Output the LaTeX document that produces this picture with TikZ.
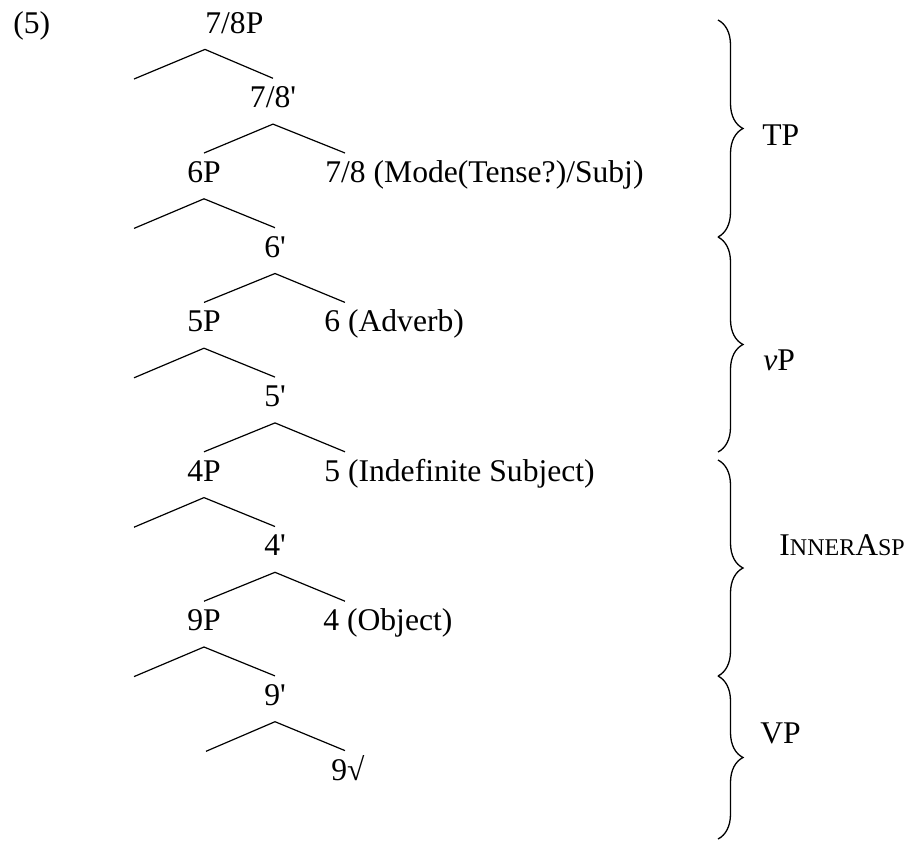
\documentclass[tikz,border=0pt]{standalone}
\usepackage{fontspec}
\newfontfamily\treefont{Liberation Serif}
\usetikzlibrary{decorations.pathreplacing}
\newcommand{\lowcap}[1]{{\fontsize{12}{14}\selectfont #1}}
\tikzset{
  lab/.style={font=\treefont\fontsize{15.8}{18}\selectfont, inner sep=0pt, text height=14.5pt, text depth=8pt, anchor=base},
  labw/.style={lab, anchor=base west},
  branch/.style={line width=0.6pt},
  bracket/.style={line width=0.65pt, decorate, decoration={brace, amplitude=12.5pt}}
}
\begin{document}
\begin{tikzpicture}[x=0.5pt,y=-0.5pt]
            \useasboundingbox (0,0) rectangle (911,842);
            \node[labw] (ex) at (13,33) {(5)};
            \node[labw] (r78P) at (205,33) {7/8P};
            \node[lab] (b78) at (273,107.7) {7/8'};
            \node[lab] (p6) at (204,182.4) {6P};
            \node[labw] (h78) at (325,182.4) {7/8 (Mode(Tense?)/Subj)};
            \node[lab] (b6) at (275,257.1) {6'};
            \node[lab] (p5) at (204,331.8) {5P};
            \node[labw] (h6) at (324,331.8) {6 (Adverb)};
            \node[lab] (b5) at (275,406.5) {5'};
            \node[lab] (p4) at (204,481.2) {4P};
            \node[labw] (h5) at (324,481.2) {5 (Indefinite Subject)};
            \node[lab] (b4) at (275,555.9) {4'};
            \node[lab] (p9) at (204,630.6) {9P};
            \node[labw] (h4) at (323,630.6) {4 (Object)};
            \node[lab] (b9) at (275,705.3) {9'};
            \node[labw] (h9) at (331,780) {9√};
            \coordinate (e0) at (134,79);
            \coordinate (e2) at (134,228.4);
            \coordinate (e4) at (134,377.8);
            \coordinate (e6) at (134,527.2);
            \coordinate (e8) at (134,676.6);
            \coordinate (e9) at (206,751.3);
            \draw[branch] (e0) -- (r78P.south west) -- (b78.north);
            \draw[branch] (p6.north) -- (b78.south) -- ([xshift=10pt]h78.north west);
            \draw[branch] (e2) -- (p6.south) -- (b6.north);
            \draw[branch] (p5.north) -- (b6.south) -- ([xshift=10.5pt]h6.north west);
            \draw[branch] (e4) -- (p5.south) -- (b5.north);
            \draw[branch] (p4.north) -- (b5.south) -- ([xshift=10.5pt]h5.north west);
            \draw[branch] (e6) -- (p4.south) -- (b4.north);
            \draw[branch] (p9.north) -- (b4.south) -- ([xshift=11pt]h4.north west);
            \draw[branch] (e8) -- (p9.south) -- (b9.north);
            \draw[branch] (e9) -- (b9.south) -- ([xshift=7pt]h9.north west);
            \draw[bracket] (718,20) -- (718,237);
            \draw[bracket] (718,237) -- (718,452);
            \draw[bracket] (718,460) -- (718,676);
            \draw[bracket] (718,676) -- (718,839);
            \node[labw] (tp) at (762,145) {TP};
            \node[labw] (vp) at (763,370) {\textit{v}P};
            \node[labw] (inner) at (779,555) {I\lowcap{NNER}A\lowcap{SP}};
            \node[labw] (bigvp) at (760,743) {VP};
        \end{tikzpicture}
\end{document}
